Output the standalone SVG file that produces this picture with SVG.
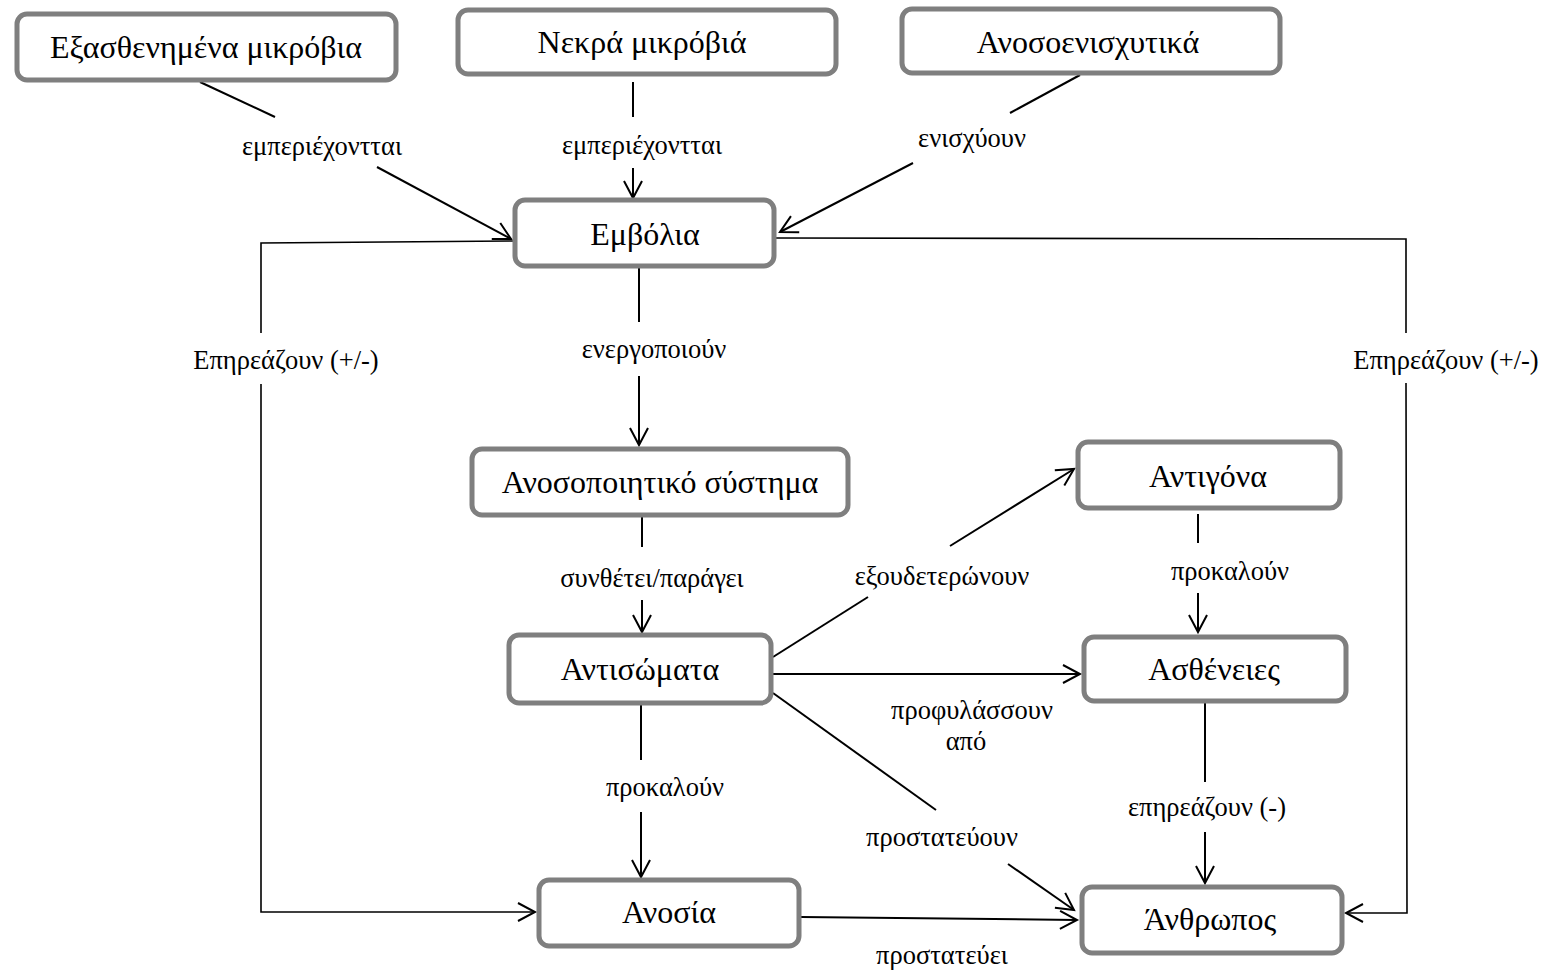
<svg xmlns="http://www.w3.org/2000/svg" width="1562" height="973" viewBox="0 0 1562 973">
<style>
.box{fill:#fff;stroke:#7f7f7f;stroke-width:5}
.nt{font-family:"Liberation Serif","Times New Roman",serif;font-size:32px;fill:#000;text-anchor:middle}
.lt{font-family:"Liberation Serif","Times New Roman",serif;font-size:26.5px;fill:#000;text-anchor:middle}
.c{fill:none;stroke:#000;stroke-width:2}
.t{fill:none;stroke:#000;stroke-width:1.6}
</style>
<defs>
<marker id="arr" markerUnits="userSpaceOnUse" markerWidth="22" markerHeight="22" viewBox="0 0 22 22" refX="19" refY="11" orient="auto">
<path d="M2,2 L19,11 L2,20" fill="none" stroke="#000" stroke-width="2"/>
</marker>
</defs>
<rect width="1562" height="973" fill="#fff"/>
<g id="connectors">
<path class="c" d="M200,82 L275,117"/>
<path class="c" d="M377,167 L511,239" marker-end="url(#arr)"/>
<path class="c" d="M633,82 L633,117"/>
<path class="c" d="M633,168 L633,198" marker-end="url(#arr)"/>
<path class="c" d="M1080,75 L1010,113"/>
<path class="c" d="M913,163 L780,232" marker-end="url(#arr)"/>
<path class="c" d="M639,268 L639,322"/>
<path class="c" d="M639,376 L639,445" marker-end="url(#arr)"/>
<path class="c" d="M642,517 L642,547"/>
<path class="c" d="M642,600 L642,632" marker-end="url(#arr)"/>
<path class="c" d="M773,657 L868,597"/>
<path class="c" d="M950,546 L1074,469" marker-end="url(#arr)"/>
<path class="c" d="M773,674 L1080,674" marker-end="url(#arr)"/>
<path class="c" d="M773,693 L936,810"/>
<path class="c" d="M1008,864 L1074,910" marker-end="url(#arr)"/>
<path class="c" d="M641,705 L641,760"/>
<path class="c" d="M641,812 L641,877" marker-end="url(#arr)"/>
<path class="c" d="M1198,514 L1198,543"/>
<path class="c" d="M1198,593 L1198,632" marker-end="url(#arr)"/>
<path class="c" d="M1205,703 L1205,782"/>
<path class="c" d="M1205,832 L1205,883" marker-end="url(#arr)"/>
<path class="c" d="M801,917 L1077,920" marker-end="url(#arr)"/>
<path class="t" d="M513,241 L261,243 L261,333"/>
<path class="t" d="M261,384 L261,912 L535,912" marker-end="url(#arr)"/>
<path class="t" d="M776,238 L1406,239 L1406,333"/>
<path class="t" d="M1406,383 L1407,913 L1346,913" marker-end="url(#arr)"/>
<text class="lt" x="322" y="155">εμπεριέχοντται</text>
<text class="lt" x="642" y="154">εμπεριέχοντται</text>
<text class="lt" x="972" y="147">ενισχύουν</text>
<text class="lt" x="654" y="358">ενεργοποιούν</text>
<text class="lt" x="652" y="587">συνθέτει/παράγει</text>
<text class="lt" x="942" y="585">εξουδετερώνουν</text>
<text class="lt" x="972" y="719">προφυλάσσουν</text>
<text class="lt" x="966" y="750">από</text>
<text class="lt" x="942" y="846">προστατεύουν</text>
<text class="lt" x="665" y="796">προκαλούν</text>
<text class="lt" x="1230" y="580">προκαλούν</text>
<text class="lt" x="1207" y="816">επηρεάζουν (-)</text>
<text class="lt" x="942" y="964">προστατεύει</text>
<text class="lt" x="286" y="369">Επηρεάζουν (+/-)</text>
<text class="lt" x="1446" y="369">Επηρεάζουν (+/-)</text>
</g>
<g id="n1"><rect class="box" x="17" y="14" width="379" height="66" rx="10"/><text class="nt" x="206" y="58">Εξασθενημένα μικρόβια</text></g>
<g id="n2"><rect class="box" x="458" y="10" width="378" height="64" rx="10"/><text class="nt" x="642" y="53">Νεκρά μικρόβιά</text></g>
<g id="n3"><rect class="box" x="902" y="9" width="378" height="64" rx="10"/><text class="nt" x="1088" y="53">Ανοσοενισχυτικά</text></g>
<g id="n4"><rect class="box" x="515" y="200" width="259" height="66" rx="10"/><text class="nt" x="645" y="245">Εμβόλια</text></g>
<g id="n5"><rect class="box" x="472" y="449" width="376" height="66" rx="10"/><text class="nt" x="660" y="493">Ανοσοποιητικό σύστημα</text></g>
<g id="n6"><rect class="box" x="509" y="635" width="262" height="68" rx="10"/><text class="nt" x="640" y="680">Αντισώματα</text></g>
<g id="n7"><rect class="box" x="1078" y="442" width="262" height="66" rx="10"/><text class="nt" x="1208" y="487">Αντιγόνα</text></g>
<g id="n8"><rect class="box" x="1084" y="637" width="262" height="64" rx="10"/><text class="nt" x="1214" y="680">Ασθένειες</text></g>
<g id="n9"><rect class="box" x="539" y="880" width="260" height="66" rx="10"/><text class="nt" x="669" y="923">Ανοσία</text></g>
<g id="n10"><rect class="box" x="1082" y="887" width="260" height="66" rx="10"/><text class="nt" x="1210" y="930">Άνθρωπος</text></g>
</svg>
